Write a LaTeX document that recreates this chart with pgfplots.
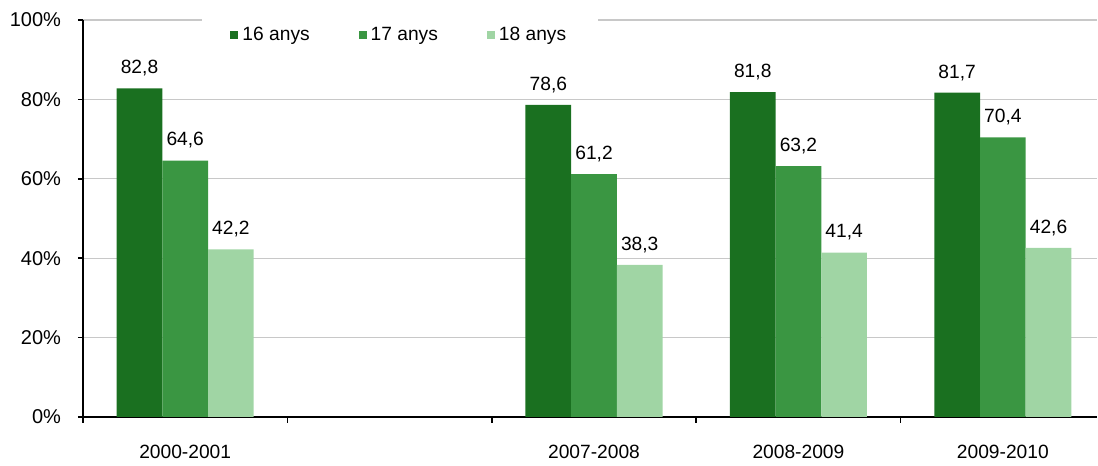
\documentclass[border=0pt]{standalone}
\usepackage{pgfplots}
\pgfplotsset{compat=1.18}
\usepackage{fontspec}
\setmainfont{Liberation Sans}

\definecolor{g16}{HTML}{1A7020}
\definecolor{g17}{HTML}{3A9642}
\definecolor{g18}{HTML}{A0D5A4}
\definecolor{gridg}{HTML}{C8C8C8}

\begin{document}
\begin{tikzpicture}
\begin{axis}[
  name=ax,
  scale only axis,
  width=507pt, height=198.5pt,
  xmin=-0.5, xmax=4.46,
  ymin=0, ymax=100,
  ybar=0pt,
  bar width=22.85pt,
  axis x line*=bottom,
  axis y line*=left,
  axis line style={line width=1.1pt, -},
  font=\fontsize{9.6}{11}\selectfont,
  /pgf/number format/assume math mode=true,
  xtick={0,2,3,4},
  xticklabels={2000-2001,2007-2008,2008-2009,2009-2010},
  major x tick style={draw=none},
  minor xtick={-0.5,0.5,1.5,2.5,3.5},
  minor x tick style={black, line width=0.8pt},
  minor tick length=3pt,
  xticklabel style={yshift=-8pt},
  ytick={0,20,...,100},
  yticklabel={\pgfmathprintnumber{\tick}\%},
  yticklabel style={xshift=-5pt, font=\fontsize{10}{11}\selectfont},
  ytick style={black, line width=0.8pt},
  tick align=outside,
  major tick length=2.5pt,
  ymajorgrids,
  grid style={gridg, line width=0.6pt},
  nodes near coords={\pgfmathprintnumber[fixed,fixed zerofill,precision=1,use comma,assume math mode=true]{\pgfplotspointmeta}},
  every node near coord/.append style={black, anchor=center, yshift=10pt, font=\fontsize{9.6}{11}\selectfont},
  legend columns=-1,
  legend style={at={(0.313,0.962)}, anchor=center, draw=none, fill=white,
    inner xsep=14pt, inner ysep=4pt,
    /tikz/every even column/.append style={column sep=22.5pt}},
  legend image code/.code={\fill[#1] (0pt,-2pt) rectangle (4pt,2pt);},
]
\addplot[fill=g16, draw=none] coordinates {(0,82.8) (2,78.6) (3,81.8) (4,81.7)};
\addlegendentry{16 anys}
\addplot[fill=g17, draw=none] coordinates {(0,64.6) (2,61.2) (3,63.2) (4,70.4)};
\addlegendentry{17 anys}
\addplot[fill=g18, draw=none] coordinates {(0,42.2) (2,38.3) (3,41.4) (4,42.6)};
\addlegendentry{18 anys}
\end{axis}
\path[use as bounding box] ([shift={(-41.5pt,-21pt)}]ax.south west) rectangle ([shift={(0.5pt,10pt)}]ax.north east);
\end{tikzpicture}
\end{document}
